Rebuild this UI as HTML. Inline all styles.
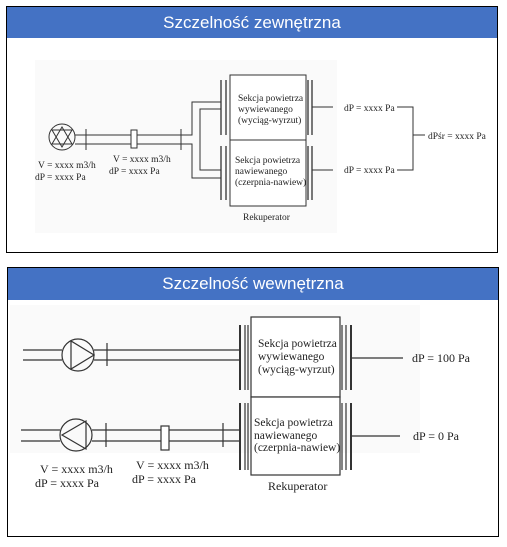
<!DOCTYPE html>
<html><head><meta charset="utf-8"><style>
body{margin:0;background:#fff;width:507px;height:547px;overflow:hidden}
svg{display:block}
.t{font-family:"Liberation Serif",serif;fill:#222}
.h{font-family:"Liberation Sans","DejaVu Sans",sans-serif;fill:#fff;font-size:17px}
</style></head><body>
<svg width="507" height="547" viewBox="0 0 507 547">
<!-- Panel 1 -->
<rect x="6.5" y="6.5" width="491" height="246" fill="#fff" stroke="#000" stroke-width="1"/>
<rect x="7" y="7" width="490" height="31" fill="#4472c4"/>
<text class="h" x="252" y="28" text-anchor="middle">Szczelność zewnętrzna</text>
<rect x="35" y="60" width="302" height="173" fill="#fafafa"/>
<g stroke="#333" stroke-width="1" fill="none">
<circle cx="62" cy="137" r="13"/>
<path d="M52,130 L72,130 L62,147 Z M52,144 L72,144 L62,127 Z"/>
<path d="M75,135 H131 M137,135 H192 V102 H221 M75,144 H131 M137,144 H192 V178 H221 M221,109 H200 V170 H221"/>
<rect x="131" y="130" width="6" height="18" fill="#fff"/>
<path d="M86,129 V150 M181,129 V150"/>
<path d="M221,80 V135 M226,80 V135 M221,146 V200 M226,146 V200" stroke-width="1.3"/>
<rect x="230" y="75" width="76" height="65" fill="#fff"/>
<rect x="230" y="140" width="76" height="66" fill="#fff"/>
<path d="M308,80 V135 M312,80 V135 M308,146 V200 M312,146 V200" stroke-width="1.3"/>
<path d="M312,107 H333 M312,170 H333 M397,107 H413 V170 H397 M413,135 H425"/>
</g>
<g class="t" font-size="9.5">
<text x="238" y="101">Sekcja powietrza</text>
<text x="238" y="112">wywiewanego</text>
<text x="238" y="123">(wyciąg-wyrzut)</text>
<text x="235" y="163">Sekcja powietrza</text>
<text x="235" y="174">nawiewanego</text>
<text x="235" y="185">(czerpnia-nawiew)</text>
<text x="243" y="220">Rekuperator</text>
<text x="38" y="168">V = xxxx m3/h</text>
<text x="35" y="180">dP = xxxx Pa</text>
<text x="113" y="162">V = xxxx m3/h</text>
<text x="109" y="174">dP = xxxx Pa</text>
<text x="344" y="111">dP = xxxx Pa</text>
<text x="344" y="173">dP = xxxx Pa</text>
<text x="428" y="139">dPśr = xxxx Pa</text>
</g>
<!-- Panel 2 -->
<rect x="7.5" y="267.5" width="491" height="269" fill="#fff" stroke="#000" stroke-width="1"/>
<rect x="8" y="268" width="490" height="32" fill="#4472c4"/>
<text class="h" x="253" y="289" text-anchor="middle">Szczelność wewnętrzna</text>
<rect x="10" y="305" width="410" height="148" fill="#fafafa"/>
<g stroke="#333" stroke-width="1.2" fill="none">
<circle cx="78" cy="355" r="16"/>
<path d="M71,341 V369 L94,355 Z"/>
<path d="M23,350 H62 M23,360 H62 M94,350 H240 M94,360 H240 M107,343 V366"/>
<circle cx="76" cy="435" r="16"/>
<path d="M86,421 V449 L62,435 Z"/>
<path d="M21,430 H60 M21,441 H60 M92,430 H161 M92,441 H161 M169,430 H240 M169,441 H240 M106,423 V447 M223,423 V447"/>
<rect x="161" y="426" width="8" height="24" fill="#fff"/>
<path d="M240,325 V390 M240,403 V470" stroke-width="2"/>
<path d="M245,325 V390 M248,325 V390 M245,403 V470 M248,403 V470"/>
<rect x="251" y="317" width="89" height="80" fill="#fff"/>
<rect x="251" y="397" width="89" height="78" fill="#fff"/>
<path d="M342,325 V390 M346,325 V390 M342,403 V470 M346,403 V470"/>
<path d="M351,325 V390 M351,403 V470" stroke-width="2"/>
<path d="M351,358 H403 M351,436 H400"/>
</g>
<g class="t" font-size="11.5">
<text x="258" y="347">Sekcja powietrza</text>
<text x="258" y="360">wywiewanego</text>
<text x="258" y="373">(wyciąg-wyrzut)</text>
<text x="254" y="426">Sekcja powietrza</text>
<text x="254" y="439">nawiewanego</text>
<text x="254" y="451">(czerpnia-nawiew)</text>
</g>
<g class="t" font-size="12">
<text x="268" y="490">Rekuperator</text>
<text x="40" y="473">V = xxxx m3/h</text>
<text x="35" y="487">dP = xxxx Pa</text>
<text x="136" y="469">V = xxxx m3/h</text>
<text x="132" y="483">dP = xxxx Pa</text>
<text x="412" y="362">dP = 100 Pa</text>
<text x="413" y="440">dP = 0 Pa</text>
</g>
</svg>
</body></html>
